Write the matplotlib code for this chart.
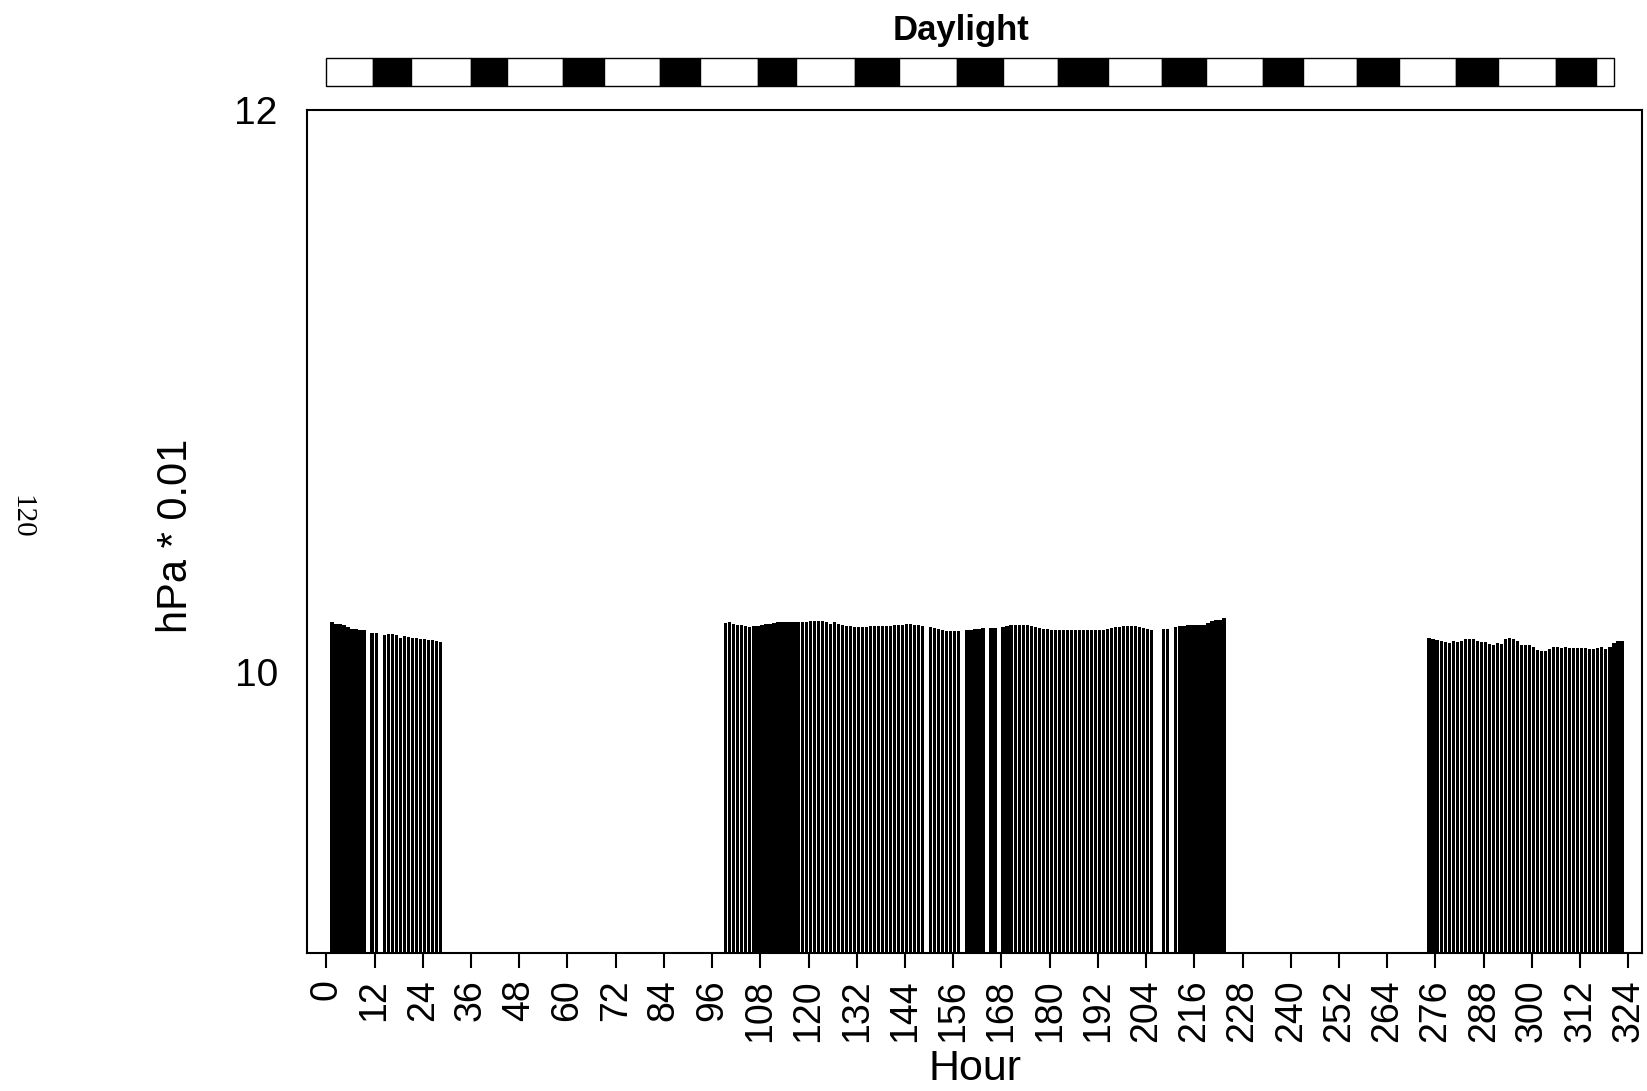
import numpy as np
import matplotlib
matplotlib.use("Agg")
import matplotlib.pyplot as plt
from matplotlib.patches import Rectangle
from matplotlib.transforms import blended_transform_factory

# hourly values, hPa * 0.01 (nan = no data)
hours_a = np.arange(1, 29)
vals_a = [10.178, 10.172, 10.171, 10.169, 10.161, 10.154, 10.152, 10.150, 10.148,
          np.nan, 10.140, 10.138, np.nan, 10.131, 10.134, 10.136, 10.131, 10.121,
          10.127, 10.126, 10.123, 10.120, 10.119, 10.116, 10.115, 10.113, 10.109,
          10.107]

hours_b = np.arange(99, 224)
vals_b = [10.176, 10.177, 10.172, 10.169, 10.166, 10.164, 10.161, 10.163, 10.164,
          10.167, 10.170, 10.171, 10.174, 10.177, 10.177, 10.177, 10.178, 10.178,
          10.178, 10.179, 10.179, 10.180, 10.180, 10.180, 10.180, 10.179, 10.172,
          10.177, 10.171, 10.167, 10.165, 10.163, 10.161, 10.160, 10.160, 10.161,
          10.163, 10.164, 10.165, 10.165, 10.165, 10.165, 10.166, 10.167, 10.169,
          10.170, 10.170, 10.169, 10.166, 10.165, np.nan, 10.161, 10.158, 10.152,
          10.148, 10.146, 10.146, 10.145, 10.145, np.nan, 10.148, 10.151, 10.152,
          10.152, 10.157, np.nan, 10.158, 10.158, np.nan, 10.160, 10.163, 10.166,
          10.167, 10.167, 10.167, 10.166, 10.164, 10.161, 10.158, 10.154, 10.152,
          10.150, 10.149, 10.148, 10.148, 10.149, 10.150, 10.150, 10.150, 10.150,
          10.150, 10.150, 10.151, 10.151, 10.151, 10.155, 10.158, 10.160, 10.162,
          10.163, 10.165, 10.165, 10.163, 10.159, 10.156, 10.153, 10.151, np.nan,
          np.nan, 10.152, 10.154, np.nan, 10.160, 10.164, 10.165, 10.166, 10.166,
          10.166, 10.167, 10.169, 10.174, 10.180, 10.184, 10.186, 10.192]

hours_c = np.arange(274, 323)
vals_c = [10.120, 10.116, 10.114, 10.112, 10.107, 10.104, 10.109, 10.107, 10.109,
          10.116, 10.116, 10.116, 10.112, 10.107, 10.107, 10.100, 10.097, 10.102,
          10.100, 10.116, 10.123, 10.119, 10.112, 10.095, 10.095, 10.095, 10.090,
          10.078, 10.076, 10.076, 10.081, 10.090, 10.090, 10.085, 10.088, 10.085,
          10.084, 10.084, 10.084, 10.084, 10.081, 10.083, 10.084, 10.090, 10.083,
          10.090, 10.102, 10.112, 10.109]

# light / dark boundaries (hours), starting with light
day_edges = [0, 11.5, 21, 36, 45, 59, 69, 83, 93, 107.5, 117, 131.5, 142.5, 157,
             168.5, 182, 194.5, 208, 219, 233, 243, 256.5, 267, 281, 291.5, 306,
             316, 320.5]

xticks = list(range(0, 325, 12))

plt.rcParams['font.family'] = ['Liberation Sans', 'DejaVu Sans']

fig = plt.figure(figsize=(16.47, 10.91), dpi=100)
ax = fig.add_axes([0.1864, 0.1265, 0.8106, 0.7725])

for hrs, vals in [(hours_a, vals_a), (hours_b, vals_b), (hours_c, vals_c)]:
    v = np.array(vals)
    ok = ~np.isnan(v)
    ax.bar(hrs[ok], v[ok], width=0.8, align='edge', color='black', linewidth=0)

ax.set_xlim(-4.8, 327.4)
ax.set_ylim(9, 12)
ax.set_yticks([10, 12])
ax.set_yticklabels(['10', '12'])
ax.set_xticks(xticks)
ax.set_xticklabels([str(t) for t in xticks], rotation=90)
ax.tick_params(axis='x', length=11, width=1.5, labelsize=27, pad=8)
ax.tick_params(axis='y', length=0, width=1.5, labelsize=28, pad=21)
for s in ax.spines.values():
    s.set_linewidth(1.5)

ax.set_xlabel('Hour', fontsize=31, labelpad=5)
fig.text(0.107, 0.509, 'hPa * 0.01', rotation=90, fontsize=30,
         ha='center', va='center')

# daylight band above the axes
tr = blended_transform_factory(ax.transData, fig.transFigure)
y0, y1 = 0.9212, 0.947
for i in range(len(day_edges) - 1):
    left, right = day_edges[i], day_edges[i + 1]
    fc = 'white' if i % 2 == 0 else 'black'
    ax.add_patch(Rectangle((left, y0), right - left, y1 - y0, transform=tr,
                           facecolor=fc, edgecolor='black', linewidth=1.0,
                           clip_on=False))
fig.text(0.5835, 0.972, 'Daylight', fontsize=25, fontweight='bold',
         ha='center', va='center')

fig.text(0.0128, 0.526, '120', rotation=-90, fontsize=21,
         family=['Liberation Serif', 'DejaVu Serif'], ha='center', va='center')

fig.savefig('out.png', dpi=100)
